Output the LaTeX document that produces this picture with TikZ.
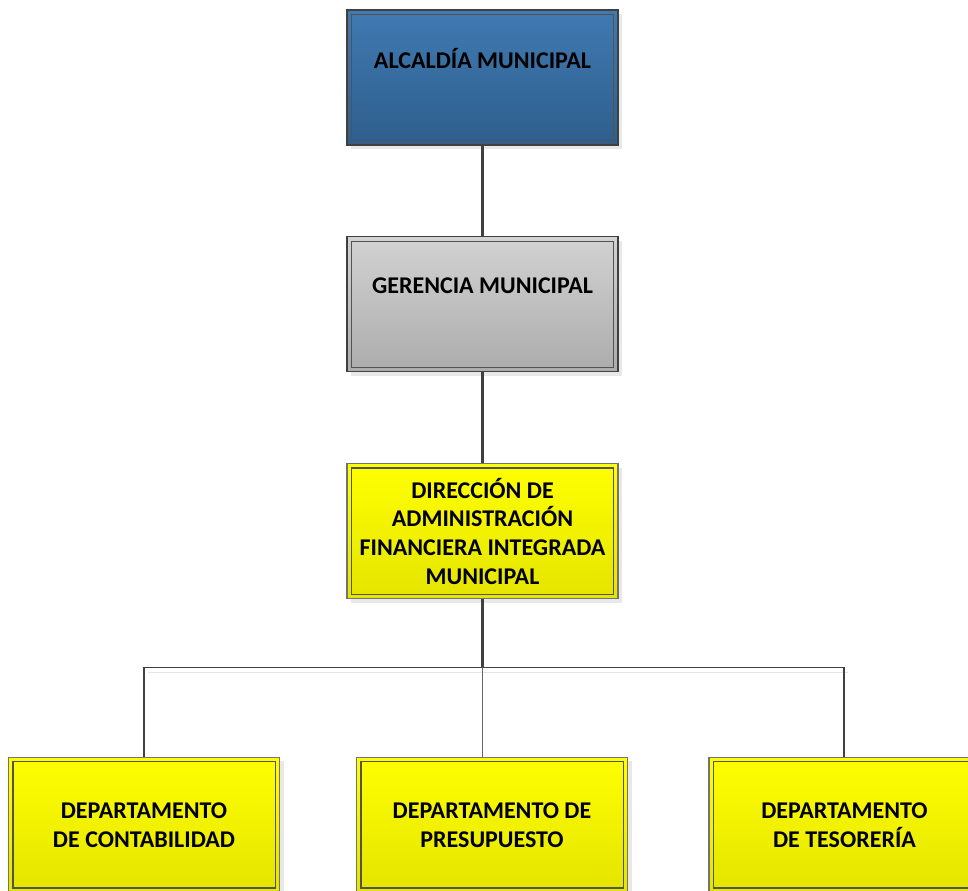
\documentclass[tikz,border=0pt]{standalone}
\usepackage{fontspec}
\setmainfont{Carlito}
\usepackage{tikz}
\usetikzlibrary{positioning,shadows}

\definecolor{bluetop}{RGB}{64,122,178}
\definecolor{bluebot}{RGB}{46,94,140}
\definecolor{greytop}{RGB}{210,210,210}
\definecolor{greybot}{RGB}{172,172,172}
\definecolor{yeltop}{RGB}{255,255,0}
\definecolor{yelbot}{RGB}{228,228,0}
\definecolor{edge}{RGB}{64,64,64}

\begin{document}
\begin{tikzpicture}[
  x=0.5pt, y=-0.5pt,
  node distance=45.3pt and 0pt,
  unit/.style={draw=edge, line width=0.6pt, minimum width=135.5pt, minimum height=67.5pt,
    align=center, inner sep=0pt, font=\bfseries\fontsize{12}{14.3}\selectfont,
    drop shadow={shadow xshift=2pt, shadow yshift=-2pt, fill=black!18}},
  alcbox/.style={unit, top color=bluetop, bottom color=bluebot},
  gerbox/.style={unit, top color=greytop, bottom color=greybot},
  yelbox/.style={unit, draw=black!55, top color=yeltop, bottom color=yelbot},
  inner/.style={draw=edge!90, line width=0.6pt},
  link/.style={draw=edge, line width=1.3pt}]
\useasboundingbox (0,0) rectangle (968,890);

\node[alcbox] (alc) at (482.5,77.5) {ALCALDÍA MUNICIPAL\\ \strut};
\node[gerbox, below=of alc] (ger) {GERENCIA MUNICIPAL\\ \strut};
\node[yelbox, below=of ger] (dir) {DIRECCIÓN DE\\ADMINISTRACIÓN\\FINANCIERA INTEGRADA\\MUNICIPAL};
\node[yelbox, below=78.8pt of dir, xshift=-169.25pt] (cont) {DEPARTAMENTO\\DE CONTABILIDAD};
\node[yelbox, below=78.8pt of dir, xshift=4.75pt] (pres) {DEPARTAMENTO DE\\PRESUPUESTO};
\node[yelbox, below=78.8pt of dir, xshift=181pt] (tes) {DEPARTAMENTO\\DE TESORERÍA};

\foreach \n in {alc,ger,dir,cont,pres,tes}
  \draw[inner] ([xshift=2.5pt,yshift=-2.5pt]\n.north west) rectangle ([xshift=-2.5pt,yshift=2.5pt]\n.south east);

\coordinate (bus) at ([yshift=-34pt]dir.south);
\coordinate (busl) at (bus -| cont.north);
\coordinate (busr) at ([xshift=-0.25pt]bus -| tes.north);

\path[link]
  (alc) edge (ger)
  (ger) edge (dir);
\draw[link] (dir.south) -- (bus);
\draw[black!10, line width=0.6pt] ([shift={(2pt,-2.5pt)}]busl) -- ([shift={(2pt,-2.5pt)}]busr);
\draw[edge, line width=0.6pt] (busl) -- (busr);
\draw[link] (busl) -- (cont.north);
\draw[link] (busr) -- (busr |- tes.north);
\draw[black!60, line width=0.5pt] (bus) -- (bus |- pres.north);

\end{tikzpicture}
\end{document}
